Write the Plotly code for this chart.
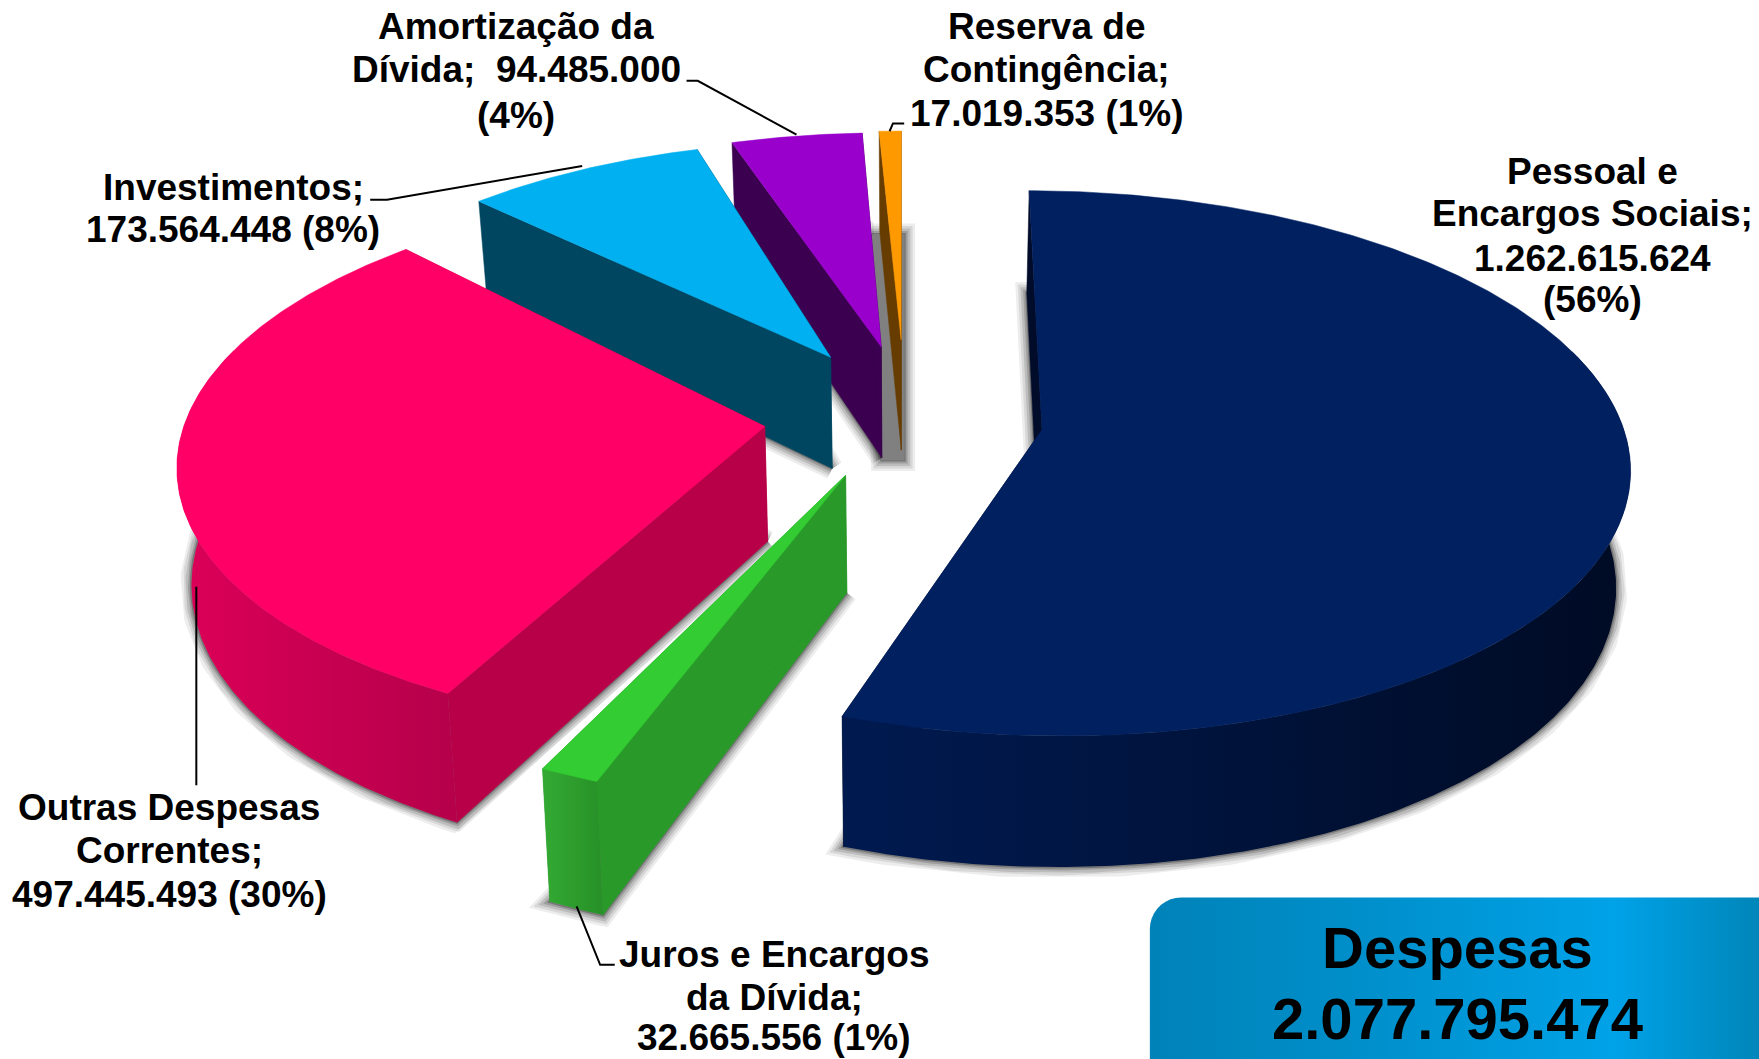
import numpy as np
import plotly.graph_objects as go

# ---- data ----
categories = ["Pessoal e Encargos Sociais", "Juros e Encargos da Dívida", "Outras Despesas Correntes",
              "Investimentos", "Amortização da Dívida", "Reserva de Contingência"]
amounts = [1262615624, 32665556, 497445493, 173564448, 94485000, 17019353]
drawn_share = [55.3, 1.4, 30.2, 8.0, 4.35, 0.75]
total_label = "2.077.795.474"

# ---- style ----
explode = [0.225, 0.24, 0.25, 0.27, 0.27, 0.27]
radius = [0.99, 1.015, 0.99, 0.95, 0.95, 0.93]
turn = [0.0, 1.0, 3.0, 1.3, -0.1, -0.26]
nudge_x = [0.005, -0.016, 0.0, 0.008, 0.0, -0.008]
nudge_y = [0.008, -0.012, -0.015, -0.003, -0.005, -0.03]
top_col = ["#002060", "#33CC33", "#FF0066", "#00B0F0", "#9900CC", "#FF9900"]
wall_col = ["#000C2A", "#299929", "#B80048", "#004660", "#3B004F", "#663C00"]
arc_left = ["#001A50", "#33AA33", "#DC0058", "#004660", "#3B004F", "#663C00"]
arc_right = ["#000B24", "#279027", "#B5004A", "#004660", "#3B004F", "#663C00"]
paint_order = [4, 5, 3, 2, 1, 0]
START = 0.2
CX, CY, A, B, P = 810.0, 372.0, 521.0, 239.0, 0.1235
DEPTH = 102.0
CONV = 0.02
SOFT = ((22, .07), (17, .09), (12, .12), (7, .16), (3, .25))


def project(X, Y, drop=0.0):
    w = 1.0 / (1.0 - P * Y)
    x = CX + A * X * w
    y = CY + B * Y * w
    if drop:
        x = x + (CX - x) * CONV
        y = y + drop * w
    return x, y


def wedge(i, t0, t1):
    d = explode[i]
    tm = np.radians((t0 + t1) / 2)
    ox, oy = d * np.sin(tm) + nudge_x[i], -d * np.cos(tm) + nudge_y[i]
    th = np.radians(np.linspace(t0 + turn[i], t1 + turn[i], max(int(abs(t1 - t0)) * 2, 6)))
    return ox, oy, ox + radius[i] * np.sin(th), oy - radius[i] * np.cos(th)


fig = go.Figure()


def poly(x, y, color, **kw):
    fig.add_trace(go.Scatter(x=list(x) + [x[0]], y=list(y) + [y[0]], mode="lines", fill="toself",
                             fillcolor=color, line=dict(color=color, width=0.5),
                             hoverinfo="skip", showlegend=False, **kw))


def soft_shadow(x, y):
    for width, alpha in SOFT:
        fig.add_trace(go.Scatter(x=list(x) + [x[0]], y=list(y) + [y[0]], mode="lines",
                                 line=dict(color=f"rgba(0,0,0,{alpha})", width=width),
                                 hoverinfo="skip", showlegend=False))
    poly(x, y, "#808080")


shares = np.array(drawn_share, dtype=float)
edges = START + np.concatenate([[0], np.cumsum(shares) / shares.sum() * 360.0])


def outline(i):
    ox, oy, ax, ay = wedge(i, edges[i], edges[i + 1])
    return ox, oy, ax, ay, np.concatenate([[ox], ax]), np.concatenate([[oy], ay])


# purple's shadow, then the grey block cast behind the two thin far slices
_, _, _, _, px4, py4 = outline(4)
soft_shadow(*project(px4, py4, DEPTH))
soft_shadow([777, 806, 806, 786], [209, 209, 410, 410])

for i in paint_order:
    ox, oy, ax, ay, px, py = outline(i)
    if i < 4:
        soft_shadow(*project(px, py, DEPTH))
    # radial walls
    for k in (0, len(ax) - 1):
        ex = np.array([ox, ax[k]])
        ey = np.array([oy, ay[k]])
        x1, y1 = project(ex, ey)
        x2, y2 = project(ex, ey, DEPTH)
        poly(np.concatenate([x1, x2[::-1]]), np.concatenate([y1, y2[::-1]]), wall_col[i])
    # outer wall
    mask = (ay - oy) > -0.30
    if mask.sum() > 1:
        x1, y1 = project(ax[mask], ay[mask])
        x2, y2 = project(ax[mask], ay[mask], DEPTH)
        xs = np.concatenate([x1, x2[::-1], x1[:1]])
        ys = np.concatenate([y1, y2[::-1], y1[:1]])
        fig.add_trace(go.Scatter(x=xs, y=ys, mode="lines", fill="toself", line=dict(width=0),
                                 fillgradient=dict(type="horizontal",
                                                   colorscale=[[0, arc_left[i]], [1, arc_right[i]]]),
                                 hoverinfo="skip", showlegend=False))
    # top face
    tx, ty = project(px, py)
    fig.add_trace(go.Scatter(x=list(tx) + [tx[0]], y=list(ty) + [ty[0]], mode="lines", fill="toself",
                             fillcolor=top_col[i], line=dict(color=top_col[i], width=0.5),
                             name=categories[i], text=f"{amounts[i]:,}".replace(",", "."),
                             hoverinfo="name+text", showlegend=False))

# leader lines
leaders = [([612, 622, 710], [72, 72, 120]),
           ([793, 796, 806], [117, 110, 110]),
           ([330, 345, 519], [178, 178, 148]),
           ([175, 175], [523, 700]),
           ([514, 535, 548], [808, 860, 860])]
for lx, ly in leaders:
    fig.add_trace(go.Scatter(x=lx, y=ly, mode="lines", line=dict(color="black", width=2),
                             hoverinfo="skip", showlegend=False))

# total box
bx0, bx1, by0, by1, r = 1025, 1600, 800, 980, 28
ang = np.radians(np.arange(0, 91, 10))
box_x = np.concatenate([bx0 + r - r * np.cos(ang), bx1 - r + r * np.sin(ang),
                        bx1 - r + r * np.cos(ang), bx0 + r - r * np.sin(ang)])
box_y = np.concatenate([by0 + r - r * np.sin(ang), by0 + r - r * np.cos(ang),
                        by1 - r + r * np.sin(ang), by1 - r + r * np.cos(ang)])
fig.add_trace(go.Scatter(x=list(box_x) + [box_x[0]], y=list(box_y) + [box_y[0]], mode="lines", fill="toself",
                         line=dict(width=0),
                         fillgradient=dict(type="horizontal",
                                           colorscale=[[0, "#0082B8"], [0.35, "#0090CC"], [0.72, "#00A2E8"], [1, "#007FAE"]]),
                         hoverinfo="skip", showlegend=False))

labels = [
    (460, ["Amortização da"], [24], 37),
    (460, ["Dívida;  94.485.000", "(4%)"], [62, 103], 37),
    (933, ["Reserva de", "Contingência;", "17.019.353 (1%)"], [24, 62, 101], 37),
    (1420, ["Pessoal e", "Encargos Sociais;", "1.262.615.624", "(56%)"], [153, 190, 230, 267], 37),
    (208, ["Investimentos;", "173.564.448 (8%)"], [167, 205], 37),
    (151, ["Outras Despesas", "Correntes;", "497.445.493 (30%)"], [720, 758, 797], 37),
    (690, ["Juros e Encargos", "da Dívida;", "32.665.556 (1%)"], [851, 889, 925], 37),
    (1299, ["Despesas", total_label], [845, 908], 58),
]
for x, lines, ys, size in labels:
    for line, y in zip(lines, ys):
        fig.add_annotation(x=x, y=y, text=f"<b>{line}</b>", showarrow=False, xanchor="center", yanchor="middle",
                           font=dict(family="Liberation Sans", size=size, color="black"))

fig.update_layout(width=1759, height=1059, margin=dict(l=0, r=0, t=0, b=0), paper_bgcolor="white",
                  plot_bgcolor="white", showlegend=False, font=dict(family="Liberation Sans"),
                  xaxis=dict(range=[0, 1568], visible=False, fixedrange=True),
                  yaxis=dict(range=[944, 0], visible=False, fixedrange=True))
fig.write_html("out.html", config=dict(displayModeBar=False),
               post_script="document.body.style.margin='0';document.documentElement.style.overflow='hidden';")
